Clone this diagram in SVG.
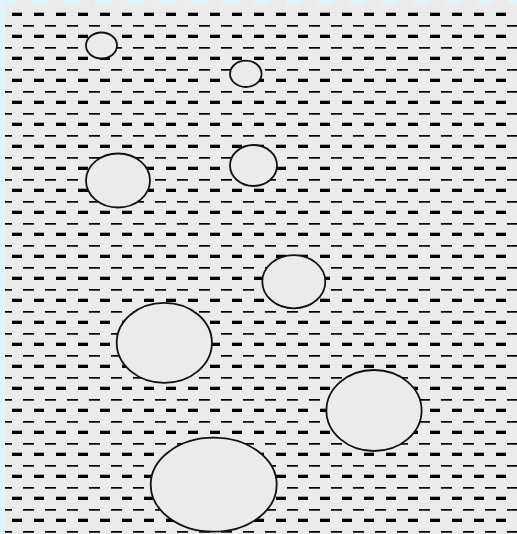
<svg xmlns="http://www.w3.org/2000/svg" width="517" height="534" viewBox="0 0 517 534">
  <defs>
    <pattern id="dashes" patternUnits="userSpaceOnUse" x="0" y="0" width="22" height="22">
      <rect x="12" y="12.7" width="11" height="3.3" fill="#000"/>
      <rect x="1" y="3" width="11" height="1.7" fill="#000"/>
    </pattern>
    <pattern id="topchk" patternUnits="userSpaceOnUse" x="0.25" y="0" width="31.75" height="5">
      <rect x="0" y="0" width="16" height="5" fill="#e1f3fd"/>
    </pattern>
  </defs>
  <style>
    .bubble { fill: #ebebeb; stroke: #111; stroke-width: 1.8; }
  </style>
  <rect x="0" y="0" width="517" height="534" fill="#e1f3fd"/>
  <rect x="5" y="5" width="512" height="529" fill="#ebebeb"/>
  <rect x="13" y="0" width="504" height="5" fill="#ebebeb"/>
  <rect x="13" y="0" width="504" height="5" fill="url(#topchk)"/>
  <rect x="5" y="5" width="512" height="529" fill="url(#dashes)"/>
  <g id="bubbles">
    <ellipse id="b1" class="bubble" cx="101.5" cy="45.5" rx="15.5" ry="13"/>
    <ellipse id="b2" class="bubble" cx="245.8" cy="73.8" rx="15.8" ry="13.2"/>
    <ellipse id="b3" class="bubble" cx="118" cy="180.5" rx="32" ry="27"/>
    <ellipse id="b4" class="bubble" cx="253.5" cy="165.5" rx="23.5" ry="20.5"/>
    <ellipse id="b5" class="bubble" cx="293.8" cy="281.7" rx="31.5" ry="26.6"/>
    <ellipse id="b6" class="bubble" cx="164.3" cy="342.8" rx="47.6" ry="40"/>
    <ellipse id="b7" class="bubble" cx="374" cy="410.5" rx="47.6" ry="40.5"/>
    <ellipse id="b8" class="bubble" cx="213.7" cy="484.7" rx="63" ry="47"/>
  </g>
</svg>
